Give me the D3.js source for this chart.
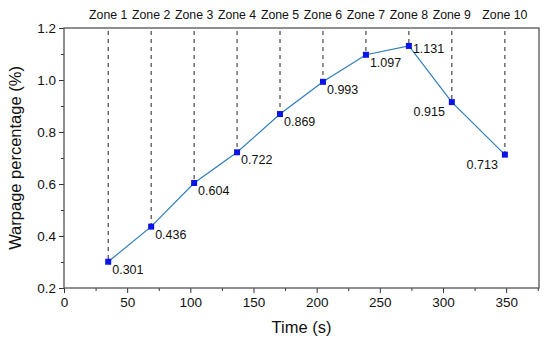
<!DOCTYPE html>
<html>
<head>
<meta charset="utf-8">
<script src="https://cdn.jsdelivr.net/npm/d3@7"></script>
<style>
  body { margin: 0; background: #fff; }
  text { font-family: "Liberation Sans", Arial, sans-serif; fill: #111; }
</style>
</head>
<body>
<div id="container"></div>
<script>
const width = 550;
const height = 346;
const margin = { top: 28, right: 11, bottom: 58, left: 64 };

const zones = ["Zone 1", "Zone 2", "Zone 3", "Zone 4", "Zone 5", "Zone 6", "Zone 7", "Zone 8", "Zone 9", "Zone 10"];
const times = [35, 69, 103, 137, 171, 205, 239, 273, 307, 349];
const warpage = [0.301, 0.436, 0.604, 0.722, 0.869, 0.993, 1.097, 1.131, 0.915, 0.713];
const xTicks = [0, 50, 100, 150, 200, 250, 300, 350];
const yTicks = [0.2, 0.4, 0.6, 0.8, 1.0, 1.2];

const data = zones.map((z, i) => ({ zone: z, t: times[i], v: warpage[i] }));

const svg = d3.select("#container").append("svg")
  .attr("width", width)
  .attr("height", height);

const x = d3.scaleLinear().domain([0, 376]).range([margin.left, width - margin.right]);
const y = d3.scaleLinear().domain([0.2, 1.2]).range([height - margin.bottom, margin.top]);

// minor ticks
svg.append("g")
  .attr("transform", `translate(0,${height - margin.bottom})`)
  .call(d3.axisBottom(x).tickValues(d3.range(25, 376, 50)).tickSize(3).tickFormat(""))
  .call(g => g.select(".domain").remove());
svg.append("g")
  .attr("transform", `translate(${margin.left},0)`)
  .call(d3.axisLeft(y).tickValues(d3.range(0.3, 1.2, 0.2)).tickSize(3).tickFormat(""))
  .call(g => g.select(".domain").remove());

const xAxis = svg.append("g")
  .attr("transform", `translate(0,${height - margin.bottom})`)
  .call(d3.axisBottom(x).tickValues(xTicks).tickSize(5).tickPadding(4).tickFormat(d3.format("d")));
xAxis.selectAll("text").attr("font-size", 13.5);
xAxis.select(".domain").remove();

const yAxis = svg.append("g")
  .attr("transform", `translate(${margin.left},0)`)
  .call(d3.axisLeft(y).tickValues(yTicks).tickSize(5).tickPadding(3).tickFormat(d3.format(".1f")));
yAxis.selectAll("text").attr("font-size", 13.5);
yAxis.select(".domain").remove();

svg.selectAll(".tick line").attr("stroke", "#333");

// frame
svg.append("rect")
  .attr("x", margin.left)
  .attr("y", margin.top)
  .attr("width", width - margin.left - margin.right)
  .attr("height", height - margin.top - margin.bottom)
  .attr("fill", "none")
  .attr("stroke", "#555")
  .attr("stroke-width", 1.3);

// dashed zone lines
svg.append("g")
  .selectAll("line")
  .data(data)
  .join("line")
  .attr("x1", d => x(d.t))
  .attr("x2", d => x(d.t))
  .attr("y1", margin.top + 3)
  .attr("y2", d => y(d.v))
  .attr("stroke", "#222")
  .attr("stroke-width", 1)
  .attr("stroke-dasharray", "4,4");

// zone labels
svg.append("g")
  .selectAll("text")
  .data(data)
  .join("text")
  .attr("x", d => x(d.t))
  .attr("y", 19)
  .attr("text-anchor", "middle")
  .attr("font-size", 12.3)
  .text(d => d.zone);

// line
svg.append("path")
  .datum(data)
  .attr("fill", "none")
  .attr("stroke", "#2f7db8")
  .attr("stroke-width", 1.2)
  .attr("d", d3.line().x(d => x(d.t)).y(d => y(d.v)));

// markers
svg.append("g")
  .selectAll("rect")
  .data(data)
  .join("rect")
  .attr("x", d => x(d.t) - 3)
  .attr("y", d => y(d.v) - 3)
  .attr("width", 6)
  .attr("height", 6)
  .attr("fill", "#0a14e6");

// value labels
svg.append("g")
  .selectAll("text")
  .data(data)
  .join("text")
  .attr("x", (d, i) => i >= 8 ? x(d.t) - 7 : x(d.t) + 4)
  .attr("y", (d, i) => i >= 8 ? y(d.v) + 14 : (i === 7 ? y(d.v) + 7 : y(d.v) + 12))
  .attr("text-anchor", (d, i) => i >= 8 ? "end" : "start")
  .attr("font-size", 12.5)
  .text(d => d3.format(".3f")(d.v));

// axis titles
svg.append("text")
  .attr("x", (margin.left + width - margin.right) / 2)
  .attr("y", 333)
  .attr("text-anchor", "middle")
  .attr("font-size", 16.5)
  .text("Time (s)");

svg.append("text")
  .attr("transform", `translate(21,${(margin.top + height - margin.bottom) / 2}) rotate(-90)`)
  .attr("text-anchor", "middle")
  .attr("font-size", 16.5)
  .text("Warpage percentage (%)");
</script>
</body>
</html>
